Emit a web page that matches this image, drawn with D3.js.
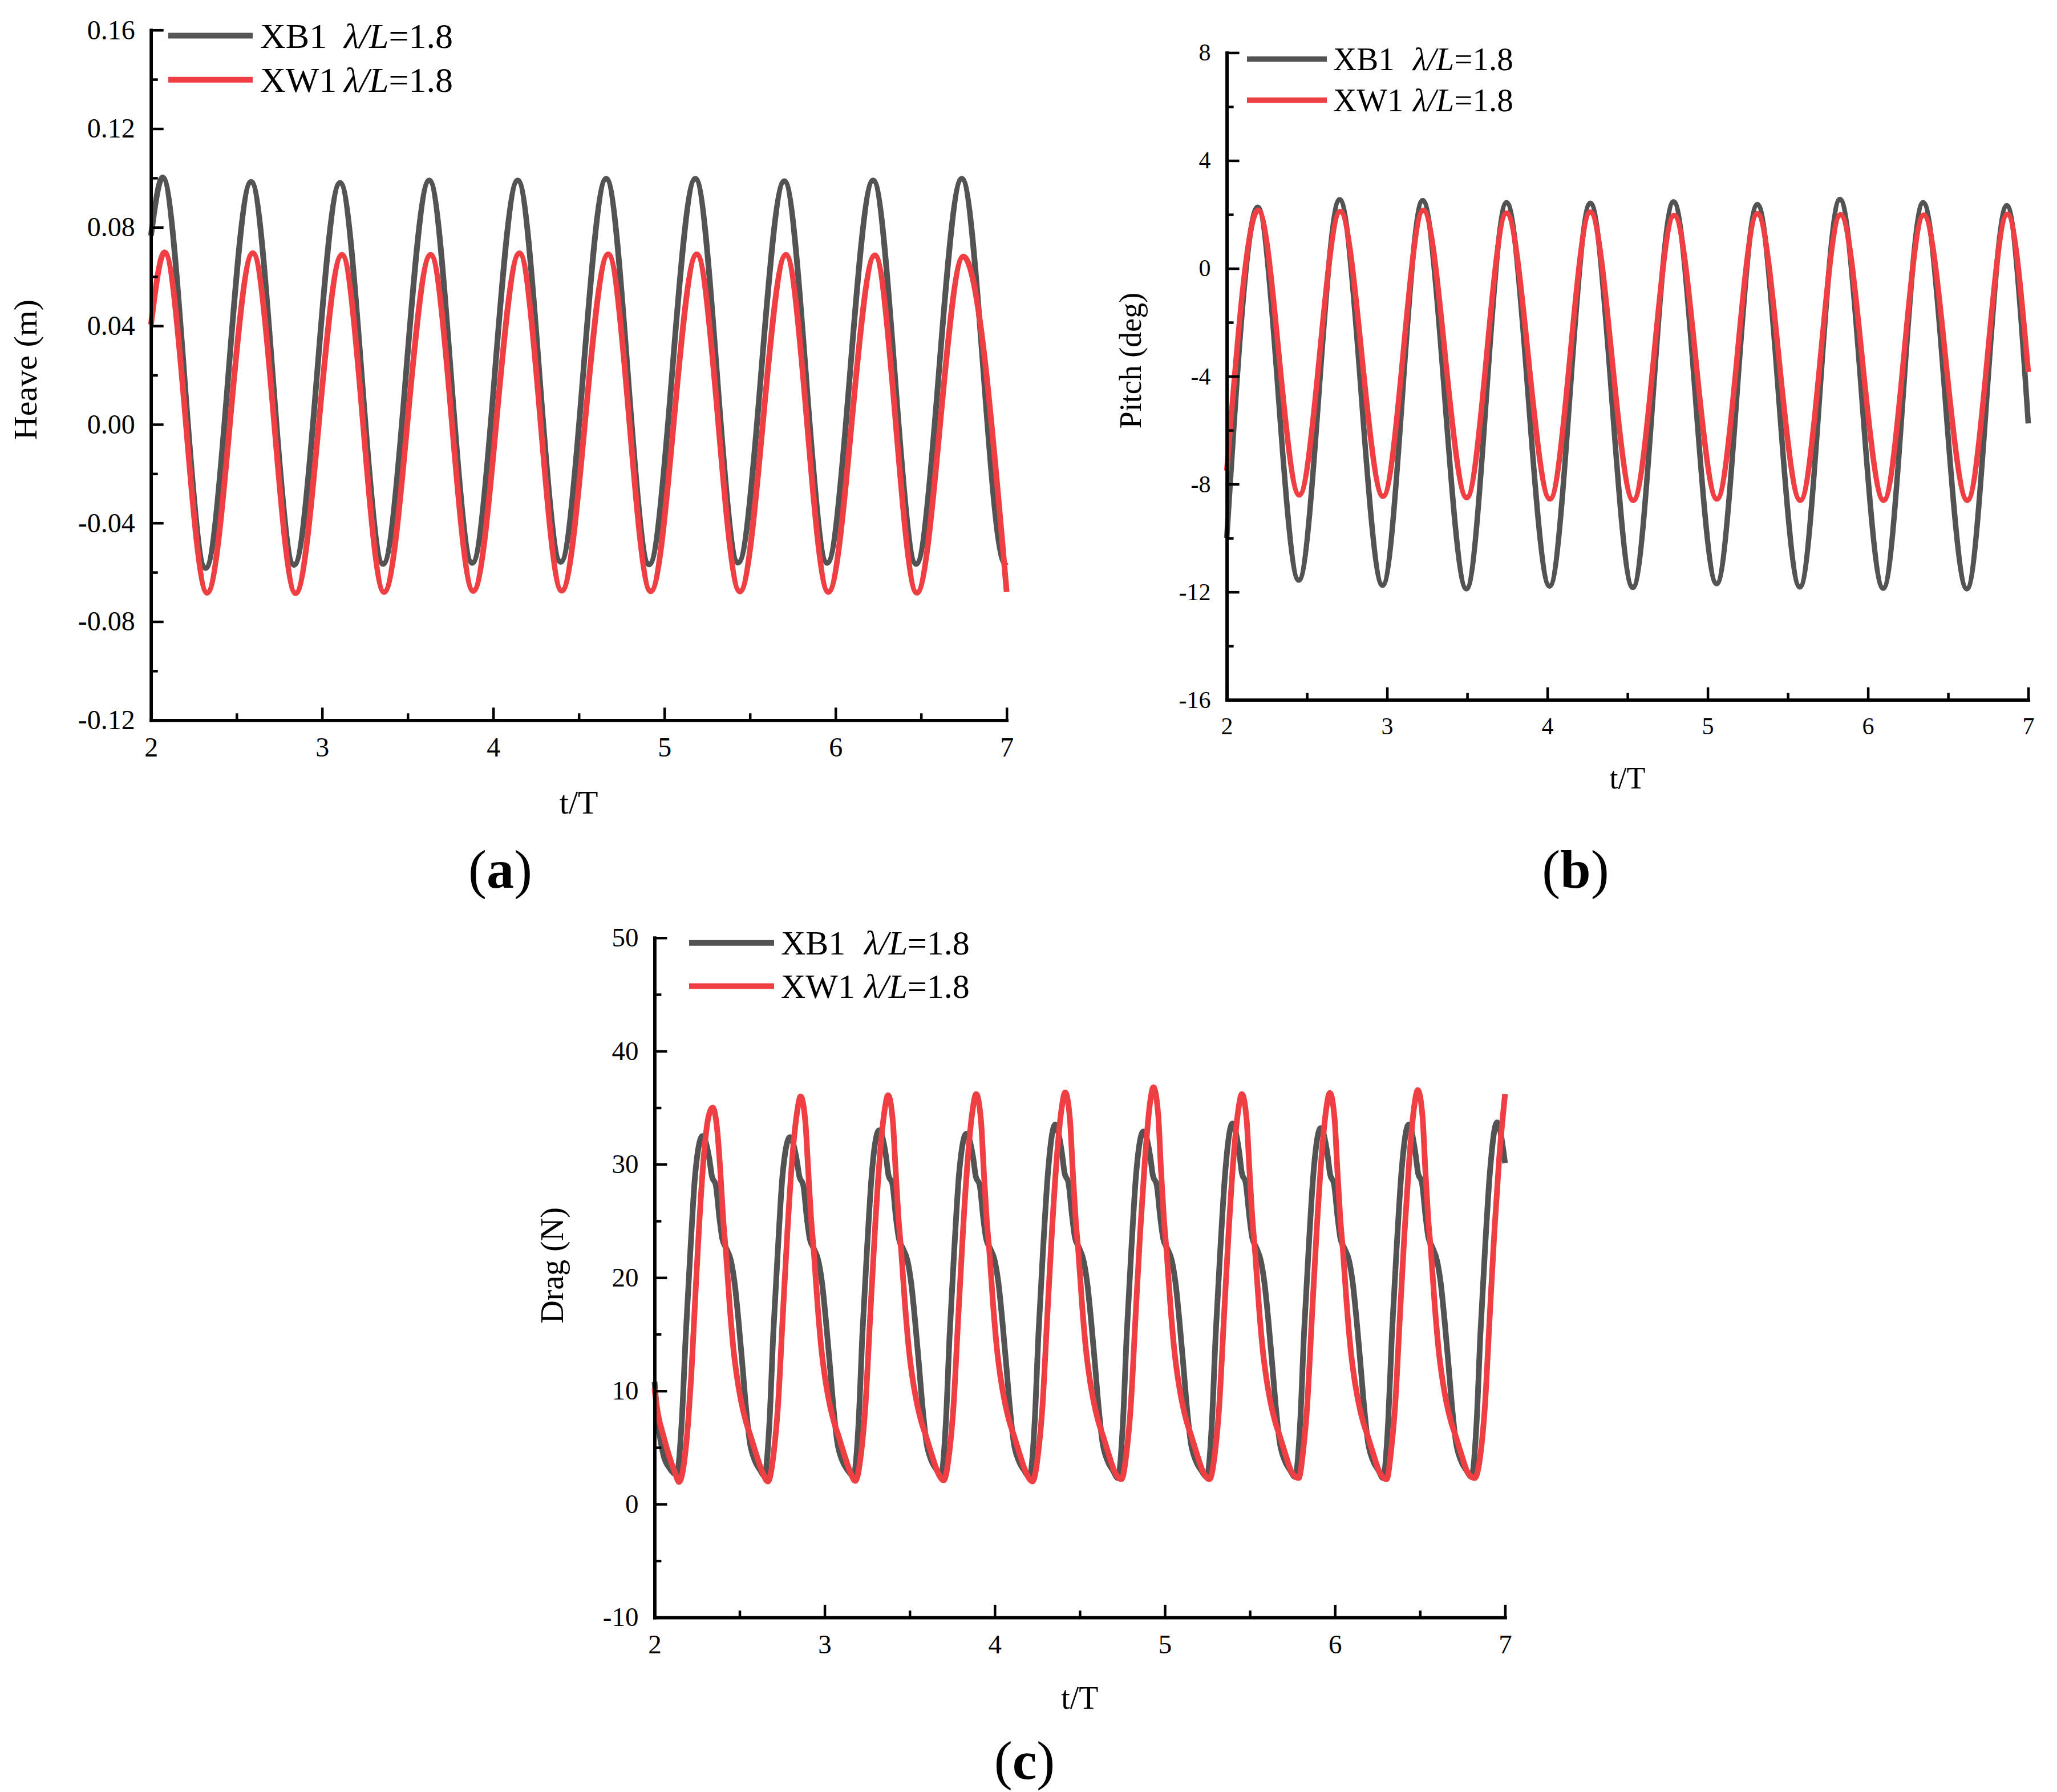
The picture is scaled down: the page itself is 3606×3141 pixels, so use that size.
<!DOCTYPE html>
<html><head><meta charset="utf-8">
<script src="https://cdn.jsdelivr.net/npm/d3@7"></script>
<style>body{margin:0;background:#fff}svg{display:block}</style>
</head><body>
<script>
// ---------- data ----------
const seriesNames = ["XB1", "XW1"];
const tTicks = [2, 3, 4, 5, 6, 7];
const tMinor = [2.5, 3.5, 4.5, 5.5, 6.5];
const heaveTicks = [-0.12, -0.08, -0.04, 0, 0.04, 0.08, 0.12, 0.16];
const heaveMinor = [-0.1, -0.06, -0.02, 0.02, 0.06, 0.1, 0.14];
const pitchTicks = [-16, -12, -8, -4, 0, 4, 8];
const pitchMinor = [-14, -10, -6, -2, 2, 6];
const dragTicks = [-10, 0, 10, 20, 30, 40, 50];
const dragMinor = [-5, 5, 15, 25, 35, 45];

const heaveXB1 = [[2.000,0.0766],[2.068,0.1002],[2.319,-0.0583],[2.585,0.0984],[2.836,-0.0570],[3.105,0.0980],[3.356,-0.0566],[3.626,0.0990],[3.877,-0.0562],[4.143,0.0990],[4.394,-0.0558],[4.660,0.0997],[4.911,-0.0568],[5.181,0.0997],[5.431,-0.0561],[5.701,0.0987],[5.951,-0.0562],[6.220,0.0990],[6.471,-0.0566],[6.738,0.0997],[6.990,-0.0562],[7.000,-0.0558]];
const heaveXW1 = [[2.000,0.0405],[2.079,0.0698],[2.328,-0.0683],[2.595,0.0695],[2.845,-0.0685],[3.116,0.0688],[3.362,-0.0680],[3.634,0.0688],[3.883,-0.0676],[4.153,0.0694],[4.400,-0.0675],[4.672,0.0690],[4.920,-0.0677],[5.189,0.0690],[5.441,-0.0678],[5.710,0.0688],[5.958,-0.0680],[6.230,0.0686],[6.475,-0.0683],[6.747,0.0681],[7.000,-0.0680]];

const pitchXB1 = [[2.000,-10.0],[2.193,2.27],[2.449,-11.56],[2.704,2.55],[2.972,-11.75],[3.222,2.52],[3.495,-11.88],[3.745,2.44],[4.014,-11.78],[4.268,2.42],[4.533,-11.83],[4.787,2.47],[5.056,-11.69],[5.310,2.37],[5.575,-11.81],[5.825,2.56],[6.095,-11.86],[6.344,2.44],[6.617,-11.88],[6.866,2.33],[7.000,-5.75]];
const pitchXW1 = [[2.000,-7.5],[2.196,2.16],[2.452,-8.4],[2.708,2.11],[2.975,-8.45],[3.226,2.16],[3.497,-8.5],[3.745,2.05],[4.016,-8.55],[4.268,2.09],[4.536,-8.6],[4.791,1.97],[5.058,-8.55],[5.310,2.03],[5.578,-8.6],[5.829,1.99],[6.098,-8.6],[6.348,1.98],[6.620,-8.6],[6.870,2.01],[7.000,-3.84]];

const dragXB1 = [[2.000,10.8],[2.020,7.3],[2.053,4.3],[2.087,3.2],[2.130,2.6],[2.160,7.3],[2.184,15.0],[2.212,22.7],[2.239,29.1],
[2.282,32.5],[2.322,30.5],[2.338,28.9],[2.360,28.2],[2.382,25.2],[2.399,23.4],[2.421,22.6],[2.449,21.5],[2.471,19.5],[2.493,16.3],[2.516,12.4],[2.538,8.5],[2.560,5.5],[2.588,3.9],[2.621,3.0],[2.646,2.5],[2.676,7.3],[2.698,15.0],[2.726,22.7],[2.753,29.1],
[2.796,32.4],[2.836,30.4],[2.852,28.9],[2.874,28.2],[2.896,25.2],[2.913,23.4],[2.935,22.6],[2.963,21.5],[2.985,19.5],[3.007,16.3],[3.030,12.4],[3.052,8.5],[3.074,5.5],[3.102,3.9],[3.135,3.0],[3.170,2.5],[3.200,7.3],[3.222,15.0],[3.250,22.7],[3.277,29.1],
[3.320,33.0],[3.360,30.8],[3.376,29.0],[3.398,28.3],[3.420,25.2],[3.437,23.4],[3.459,22.6],[3.487,21.5],[3.509,19.5],[3.531,16.3],[3.554,12.4],[3.576,8.5],[3.598,5.5],[3.626,3.9],[3.659,3.0],[3.683,2.4],[3.713,7.3],[3.735,15.0],[3.763,22.7],[3.790,29.1],
[3.833,32.7],[3.873,30.6],[3.889,28.9],[3.911,28.2],[3.933,25.2],[3.950,23.4],[3.972,22.6],[4.000,21.5],[4.022,19.5],[4.044,16.3],[4.067,12.4],[4.089,8.5],[4.111,5.5],[4.139,3.9],[4.172,3.0],[4.205,2.4],[4.235,7.3],[4.257,15.0],[4.285,22.7],[4.312,29.1],
[4.355,33.5],[4.395,31.0],[4.411,29.2],[4.433,28.4],[4.455,25.4],[4.472,23.5],[4.494,22.7],[4.522,21.5],[4.544,19.5],[4.566,16.3],[4.589,12.4],[4.611,8.5],[4.633,5.5],[4.661,3.9],[4.694,3.0],[4.724,2.3],[4.754,7.3],[4.776,15.0],[4.804,22.7],[4.831,29.1],
[4.874,32.9],[4.914,30.7],[4.930,29.0],[4.952,28.2],[4.974,25.2],[4.991,23.4],[5.013,22.6],[5.041,21.5],[5.063,19.5],[5.085,16.3],[5.108,12.4],[5.130,8.5],[5.152,5.5],[5.180,3.9],[5.213,3.0],[5.247,2.4],[5.277,7.3],[5.299,15.0],[5.327,22.7],[5.354,29.1],
[5.397,33.6],[5.437,31.1],[5.453,29.2],[5.475,28.4],[5.497,25.4],[5.514,23.5],[5.536,22.7],[5.564,21.5],[5.586,19.5],[5.608,16.3],[5.631,12.4],[5.653,8.5],[5.675,5.5],[5.703,3.9],[5.736,3.0],[5.766,2.4],[5.796,7.3],[5.818,15.0],[5.846,22.7],[5.873,29.1],
[5.916,33.2],[5.956,30.9],[5.972,29.1],[5.994,28.3],[6.016,25.3],[6.033,23.4],[6.055,22.6],[6.083,21.5],[6.105,19.5],[6.127,16.3],[6.150,12.4],[6.172,8.5],[6.194,5.5],[6.222,3.9],[6.255,3.0],[6.283,2.3],[6.313,7.3],[6.335,15.0],[6.363,22.7],[6.390,29.1],
[6.433,33.5],[6.473,31.0],[6.489,29.2],[6.511,28.4],[6.533,25.4],[6.550,23.5],[6.572,22.7],[6.600,21.5],[6.622,19.5],[6.644,16.3],[6.667,12.4],[6.689,8.5],[6.711,5.5],[6.739,3.9],[6.772,3.0],[6.803,2.4],[6.833,7.3],[6.855,15.0],[6.883,22.7],[6.910,29.1],
[6.953,33.7],[7.000,30.1]];

const dragXW1 = [[2.000,10.2],[2.020,8.0],[2.053,6.0],[2.087,4.2],[2.120,2.8],[2.144,1.95],[2.176,3.9],[2.198,7.3],[2.215,11.1],[2.237,17.5],[2.260,24.0],[2.288,30.4],[2.316,34.1],
[2.342,35.0],[2.370,32.8],[2.386,29.6],[2.403,25.3],[2.420,22.2],[2.442,17.5],[2.464,13.7],[2.486,11.1],[2.509,9.1],[2.537,7.3],[2.565,6.0],[2.598,4.4],[2.632,2.9],[2.667,2.0],[2.702,4.7],[2.725,8.5],[2.753,16.3],[2.781,24.0],[2.809,30.4],[2.837,34.5],
[2.859,36.0],[2.887,33.7],[2.903,29.6],[2.920,25.3],[2.937,22.2],[2.959,17.5],[2.981,13.7],[3.003,11.1],[3.026,9.1],[3.054,7.3],[3.082,6.0],[3.115,4.4],[3.149,2.9],[3.180,2.05],[3.216,4.7],[3.239,8.5],[3.267,16.3],[3.295,24.0],[3.323,30.4],[3.351,34.6],
[3.373,36.1],[3.401,33.8],[3.417,29.6],[3.434,25.3],[3.451,22.2],[3.473,17.5],[3.495,13.7],[3.517,11.1],[3.540,9.1],[3.568,7.3],[3.596,6.0],[3.629,4.4],[3.663,2.9],[3.700,2.1],[3.734,4.7],[3.757,8.5],[3.785,16.3],[3.813,24.0],[3.841,30.4],[3.869,34.7],
[3.891,36.2],[3.919,33.9],[3.935,29.6],[3.952,25.3],[3.969,22.2],[3.991,17.5],[4.013,13.7],[4.035,11.1],[4.058,9.1],[4.086,7.3],[4.114,6.0],[4.147,4.4],[4.181,2.9],[4.222,2.0],[4.257,4.7],[4.280,8.5],[4.308,16.3],[4.336,24.0],[4.364,30.4],[4.392,34.8],
[4.414,36.35],[4.442,34.0],[4.458,29.6],[4.475,25.3],[4.492,22.2],[4.514,17.5],[4.536,13.7],[4.558,11.1],[4.581,9.1],[4.609,7.3],[4.637,6.0],[4.670,4.4],[4.704,2.9],[4.745,2.2],[4.776,4.7],[4.799,8.5],[4.827,16.3],[4.855,24.0],[4.883,30.4],[4.911,35.2],
[4.933,36.8],[4.961,34.4],[4.977,29.6],[4.994,25.3],[5.011,22.2],[5.033,17.5],[5.055,13.7],[5.077,11.1],[5.100,9.1],[5.128,7.3],[5.156,6.0],[5.189,4.4],[5.223,2.9],[5.262,2.2],[5.296,4.7],[5.319,8.5],[5.347,16.3],[5.375,24.0],[5.403,30.4],[5.431,34.7],
[5.453,36.2],[5.481,33.9],[5.497,29.6],[5.514,25.3],[5.531,22.2],[5.553,17.5],[5.575,13.7],[5.597,11.1],[5.620,9.1],[5.648,7.3],[5.676,6.0],[5.709,4.4],[5.743,2.9],[5.787,2.3],[5.813,4.7],[5.836,8.5],[5.864,16.3],[5.892,24.0],[5.920,30.4],[5.948,34.8],
[5.970,36.3],[5.998,34.0],[6.014,29.6],[6.031,25.3],[6.048,22.2],[6.070,17.5],[6.092,13.7],[6.114,11.1],[6.137,9.1],[6.165,7.3],[6.193,6.0],[6.226,4.4],[6.260,2.9],[6.304,2.2],[6.330,4.7],[6.353,8.5],[6.381,16.3],[6.409,24.0],[6.437,30.4],[6.465,35.0],
[6.487,36.55],[6.515,34.2],[6.531,29.6],[6.548,25.3],[6.565,22.2],[6.587,17.5],[6.609,13.7],[6.631,11.1],[6.654,9.1],[6.682,7.3],[6.710,6.0],[6.743,4.4],[6.777,2.9],[6.821,2.3],[6.858,4.7],[6.881,8.5],[6.909,16.3],[6.937,24.0],[6.965,30.4],[7.000,36.2]];

// ---------- layout ----------
const W = 3606, H = 3141;
const colors = ["#535353", "#f03f43"];
const FONT = "'Liberation Serif','Times New Roman',Times,serif";

const svg = d3.select("body").append("svg").attr("width", W).attr("height", H)
  .style("font-family", FONT);
svg.append("rect").attr("width", W).attr("height", H).attr("fill", "#fff");

const panels = [
  {series:[heaveXB1, heaveXW1], yDomain:[-0.12,0.16], yTicks:heaveTicks, yMinor:heaveMinor, fmt:d=>d.toFixed(2),
   left:264.7, right:1764.7, top:52.7, bottom:1262.3, tickFont:48, lw:10,
   yTitle:"Heave (m)", yTitleX:44, yTitleY:648, yTitleFont:58, xTitleY:1426, xTitleFont:58,
   leg:{x0:295, x1:443, xt:456, xl:603, y:[62.5,139.7], base:[84,161], font:62},
   label:"(a)", labelX:877, labelY:1556, labelFont:96},
  {series:[pitchXB1, pitchXW1], yDomain:[-16,8], yTicks:pitchTicks, yMinor:pitchMinor, fmt:d=>String(d),
   left:2150.6, right:3555.6, top:92.4, bottom:1226.7, tickFont:42, lw:9.5,
   yTitle:"Pitch (deg)", yTitleX:1982, yTitleY:632, yTitleFont:54, xTitleY:1382, xTitleFont:54,
   leg:{x0:2186, x1:2326, xt:2337, xl:2477, y:[103.6,175.4], base:[123,195], font:57},
   label:"(b)", labelX:2762, labelY:1556, labelFont:96},
  {series:[dragXB1, dragXW1], yDomain:[-10,50], yTicks:dragTicks, yMinor:dragMinor, fmt:d=>String(d),
   left:1147.4, right:2638.4, top:1643.75, bottom:2834.9, tickFont:47, lw:10,
   yTitle:"Drag (N)", yTitleX:968, yTitleY:2218, yTitleFont:56, xTitleY:2995, xTitleFont:56,
   leg:{x0:1208, x1:1357, xt:1369, xl:1515, y:[1652.7,1728.6], base:[1673,1749], font:60},
   label:"(c)", labelX:1796, labelY:3118, labelFont:96}
];

panels.forEach(p => {
  const x = d3.scaleLinear().domain([2,7]).range([p.left, p.right]);
  const y = d3.scaleLinear().domain(p.yDomain).range([p.bottom, p.top]);
  const g = svg.append("g");

  // curves
  const line = d3.line().x(d => x(d[0])).y(d => y(d[1])).curve(d3.curveMonotoneX);
  p.series.forEach((s, i) => {
    g.append("path").datum(s).attr("d", line).attr("fill", "none")
      .attr("stroke", colors[i]).attr("stroke-width", p.lw)
      .attr("stroke-linejoin", "round").attr("stroke-linecap", "butt");
  });

  // axes
  const styleAxis = sel => {
    sel.attr("font-family", null);
    sel.select(".domain").attr("stroke", "#000").attr("stroke-width", 5.5).attr("stroke-linecap", "square");
    sel.selectAll(".tick line").attr("stroke", "#000").attr("stroke-width", 4.5);
    sel.selectAll(".tick text").attr("fill", "#000").style("font-size", p.tickFont + "px").style("font-family", FONT);
  };
  const xAxis = d3.axisBottom(x).tickValues(tTicks).tickFormat(d3.format("d"))
    .tickSizeInner(-22).tickSizeOuter(0).tickPadding(30);
  const xMin = d3.axisBottom(x).tickValues(tMinor).tickFormat("").tickSizeInner(-12).tickSizeOuter(0);
  const yAxis = d3.axisLeft(y).tickValues(p.yTicks).tickFormat(p.fmt)
    .tickSizeInner(-22).tickSizeOuter(0).tickPadding(28);
  const yMin = d3.axisLeft(y).tickValues(p.yMinor).tickFormat("").tickSizeInner(-12).tickSizeOuter(0);

  g.append("g").attr("transform", `translate(0,${p.bottom})`).call(xMin).call(styleAxis);
  g.append("g").attr("transform", `translate(${p.left},0)`).call(yMin).call(styleAxis);
  g.append("g").attr("transform", `translate(0,${p.bottom})`).call(xAxis).call(styleAxis);
  g.append("g").attr("transform", `translate(${p.left},0)`).call(yAxis).call(styleAxis);

  // titles
  g.append("text").attr("x", (p.left + p.right) / 2).attr("y", p.xTitleY)
    .attr("text-anchor", "middle").style("font-size", p.xTitleFont + "px").text("t/T");
  g.append("text").attr("transform", `translate(${p.yTitleX},${p.yTitleY}) rotate(-90)`)
    .attr("text-anchor", "middle").attr("dominant-baseline", "central")
    .style("font-size", p.yTitleFont + "px").text(p.yTitle);

  // legend
  seriesNames.forEach((n, i) => {
    g.append("line").attr("x1", p.leg.x0).attr("x2", p.leg.x1).attr("y1", p.leg.y[i]).attr("y2", p.leg.y[i])
      .attr("stroke", colors[i]).attr("stroke-width", p.lw);
    g.append("text").attr("x", p.leg.xt).attr("y", p.leg.base[i]).style("font-size", p.leg.font + "px").text(n);
    const t = g.append("text").attr("x", p.leg.xl).attr("y", p.leg.base[i]).style("font-size", p.leg.font + "px");
    t.append("tspan").style("font-style", "italic").text("λ/L");
    t.append("tspan").text("=1.8");
  });

  // panel label
  const lab = g.append("text").attr("x", p.labelX).attr("y", p.labelY).attr("text-anchor", "middle")
    .style("font-size", p.labelFont + "px");
  lab.append("tspan").text("(");
  lab.append("tspan").style("font-weight", "bold").text(p.label.slice(1, 2));
  lab.append("tspan").text(")");
});
</script>
</body></html>
